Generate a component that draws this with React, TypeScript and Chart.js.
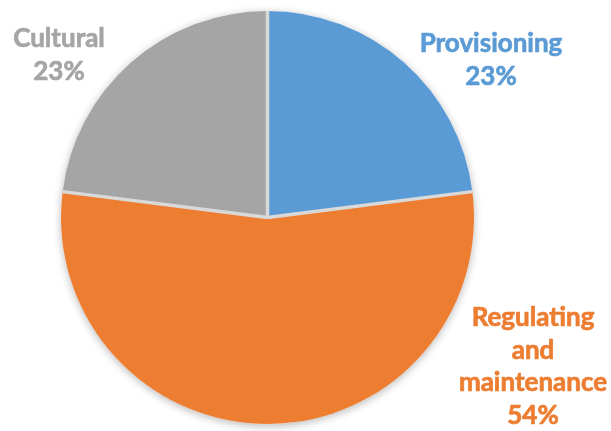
import React, { useEffect, useRef } from "react";
import { Chart, registerables } from "chart.js";

Chart.register(...registerables);

const categories = ["Provisioning", "Regulating and maintenance", "Cultural"];
const values = [23, 54, 23];
const colors = ["#5B9BD5", "#ED7D31", "#A5A5A5"];
// label text lines per slice (last line is the percentage)
const labelLines = [["Provisioning"], ["Regulating", "and", "maintenance"], ["Cultural"]];
// label anchor: center x and first baseline y (in canvas px)
const labelAnchors = [
  { x: 491, y: 52 },
  { x: 533, y: 326 },
  { x: 59, y: 47 },
];

const FONT = "bold 26px Lato, 'Open Sans', sans-serif";
const LINE_H = 32.5;

const decorPlugin = {
  id: "decor",
  beforeDatasetsDraw(chart: any) {
    const meta = chart.getDatasetMeta(0);
    const a = meta.data[0];
    if (!a) return;
    const ctx = chart.ctx;
    ctx.save();
    ctx.shadowColor = "rgba(0,0,0,0.28)";
    ctx.shadowBlur = 9;
    ctx.shadowOffsetX = 0;
    ctx.shadowOffsetY = 2;
    ctx.fillStyle = "#ffffff";
    ctx.beginPath();
    ctx.arc(a.x, a.y, a.outerRadius, 0, Math.PI * 2);
    ctx.fill();
    ctx.restore();
  },
  afterDatasetsDraw(chart: any) {
    const meta = chart.getDatasetMeta(0);
    const ctx = chart.ctx;
    ctx.save();
    ctx.strokeStyle = "#D9D9D9";
    ctx.lineWidth = 3.5;
    ctx.lineCap = "butt";
    meta.data.forEach((arc: any) => {
      const ang = arc.startAngle;
      ctx.beginPath();
      ctx.moveTo(arc.x, arc.y);
      ctx.lineTo(arc.x + Math.cos(ang) * arc.outerRadius, arc.y + Math.sin(ang) * arc.outerRadius);
      ctx.stroke();
    });
    // labels
    ctx.font = FONT;
    ctx.textAlign = "center";
    ctx.textBaseline = "alphabetic";
    ctx.lineWidth = 0.7;
    ctx.lineJoin = "round";
    const total = values.reduce((s, v) => s + v, 0);
    values.forEach((v, i) => {
      const lines = [...labelLines[i], Math.round((v / total) * 100) + "%"];
      ctx.fillStyle = colors[i];
      ctx.strokeStyle = colors[i];
      lines.forEach((t, j) => {
        const y = labelAnchors[i].y + j * LINE_H;
        ctx.fillText(t, labelAnchors[i].x, y);
        ctx.strokeText(t, labelAnchors[i].x, y);
      });
    });
    ctx.restore();
  },
};

export default function App() {
  const ref = useRef<HTMLCanvasElement>(null);
  useEffect(() => {
    if (!ref.current) return;
    const chart = new Chart(ref.current, {
      type: "pie",
      data: {
        labels: categories,
        datasets: [
          {
            data: values,
            backgroundColor: colors,
            borderWidth: 0,
          },
        ],
      },
      options: {
        animation: false,
        responsive: false,
        layout: { padding: { left: 61, right: 137, top: 10, bottom: 6 } },
        plugins: {
          legend: { display: false },
          tooltip: { enabled: false },
        },
      },
      plugins: [decorPlugin],
    });
    return () => chart.destroy();
  }, []);
  return (
    <div style={{ position: "absolute", left: 0, top: 0, width: 611, height: 431, background: "#fff" }}>
      <canvas ref={ref} width={611} height={431} />
    </div>
  );
}
